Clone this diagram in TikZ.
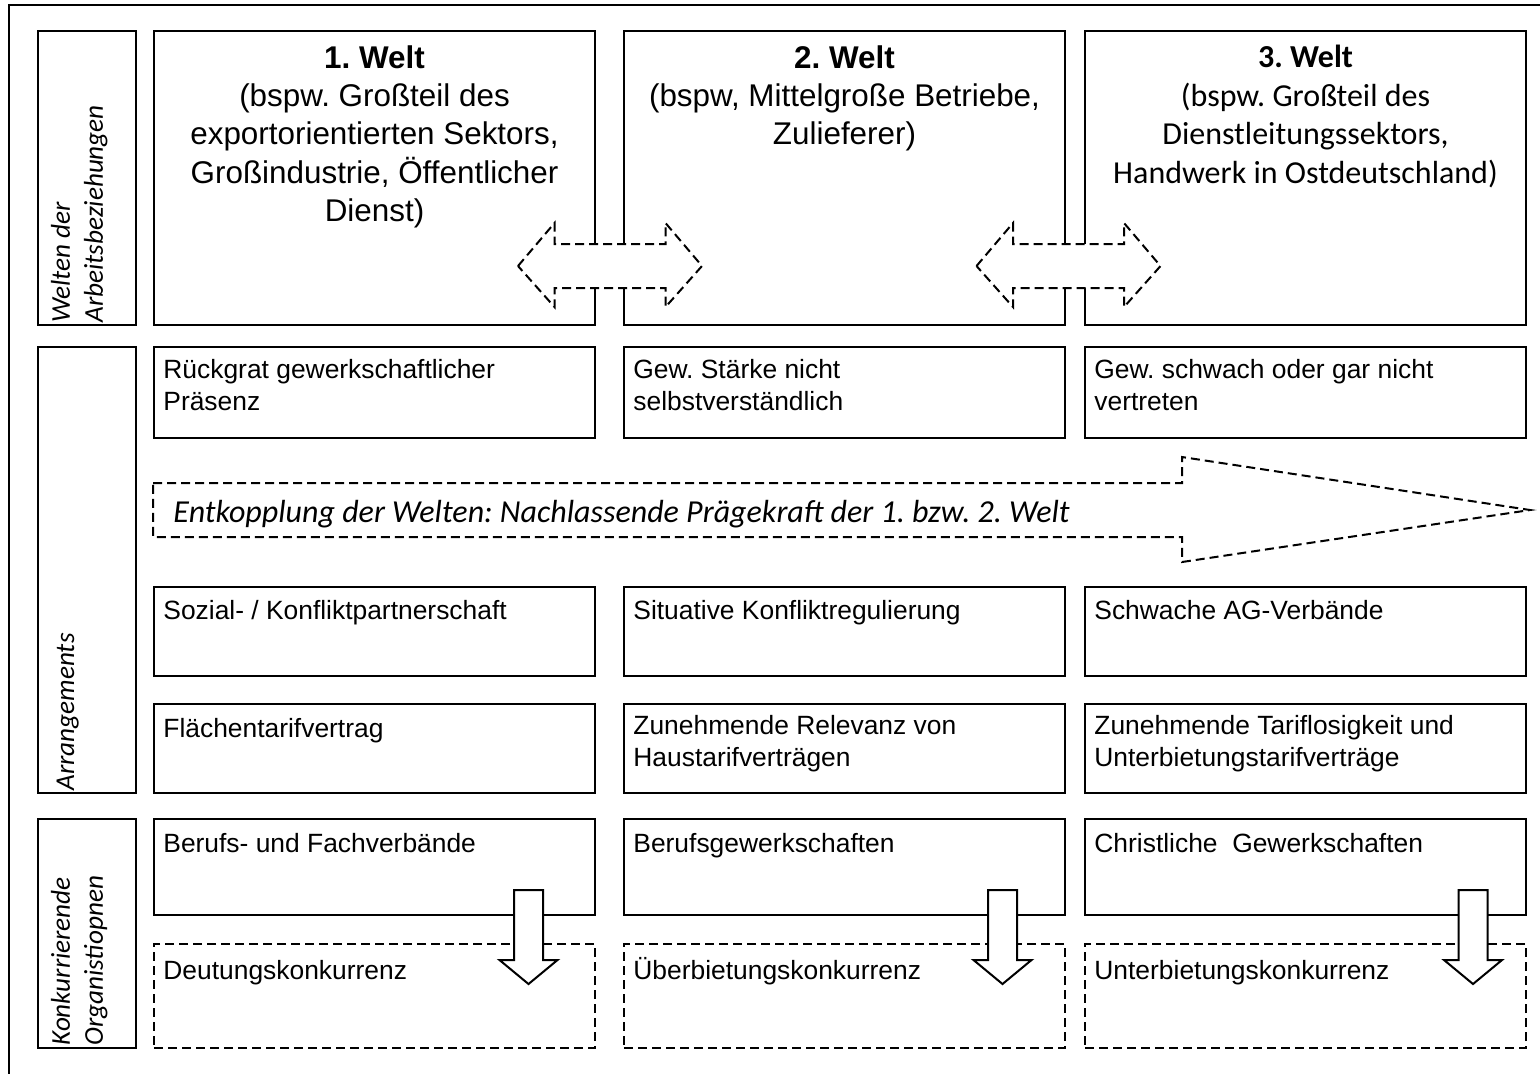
\documentclass[tikz,border=0pt]{standalone}
\usepackage{fontspec}
\setmainfont{Liberation Sans}
\newfontfamily\calibri{Carlito}
\usetikzlibrary{positioning, calc}
\frenchspacing

\tikzset{
    cell/.style 2 args={draw, line width=1pt, anchor=north west, inner sep=0pt,
        minimum width={#1*0.5pt}, minimum height={#2*0.5pt}},
    dashcell/.style 2 args={cell={#1}{#2}, dash pattern=on 4.5pt off 2.5pt},
    celltext/.style={anchor=north west, inner sep=0pt, align=left,
        font=\fontsize{13.2}{16}\selectfont, execute at begin node=\strut},
    headtext/.style={anchor=north, inner sep=0pt, align=center,
        font=\fontsize{15.7}{19.2}\selectfont, execute at begin node=\strut},
    sidetext/.style={anchor=north west, inner sep=0pt, align=left, rotate=90,
        font=\calibri\itshape\fontsize{13.6}{16.5}\selectfont, execute at begin node=\strut},
    solidline/.style={line width=1pt},
    dashline/.style={line width=1pt, dash pattern=on 4.5pt off 2.5pt},
}

\begin{document}
\begin{tikzpicture}[x=0.5pt, y=-0.5pt]
    \useasboundingbox (0,0) rectangle (1540,1073);

    % Outer frame
    \draw[solidline] (9,5) rectangle (1560,1080);

    % Side labels
    \node[cell={98}{294}] (s1) at (37,30) {};
    \node[cell={98}{446}] (s2) at (37,346) {};
    \node[cell={98}{229}] (s3) at (37,818) {};
    \node[sidetext] (s1t) at ([shift={(13.5,-3)}]s1.south west) {Welten der\\Arbeitsbeziehungen};
    \node[sidetext] (s2t) at ([shift={(13.5,-3)}]s2.south west) {Arrangements};
    \node[sidetext] (s3t) at ([shift={(13.5,-3)}]s3.south west) {Konkurrierende\\Organistiopnen};

    % Worlds
    \node[cell={441}{294}] (w1) at (153,30) {};
    \node[cell={441}{294}] (w2) at (623,30) {};
    \node[cell={441}{294}] (w3) at (1084,30) {};
    \node[headtext] (w1t) at ([shift={(0,15)}]w1.north)
        {\textbf{1. Welt}\\(bspw. Großteil des\\exportorientierten Sektors,\\Großindustrie, Öffentlicher\\Dienst)};
    \node[headtext] (w2t) at ([shift={(0,15)}]w2.north)
        {\textbf{2. Welt}\\(bspw, Mittelgroße Betriebe,\\Zulieferer)};
    \node[headtext, font=\calibri\fontsize{16}{19.2}\selectfont] (w3t) at ([shift={(0,15)}]w3.north)
        {\textbf{3. Welt}\\(bspw. Großteil des\\Dienstleitungssektors,\\Handwerk in Ostdeutschland)};

    % Union presence
    \node[cell={441}{91}] (a1) at (153,346) {};
    \node[cell={441}{91}] (a2) at (623,346) {};
    \node[cell={441}{91}] (a3) at (1084,346) {};
    \node[celltext] (a1t) at ([shift={(10,13)}]a1.north west) {Rückgrat gewerkschaftlicher\\Präsenz};
    \node[celltext] (a2t) at ([shift={(10,13)}]a2.north west) {Gew. Stärke nicht\\selbstverständlich};
    \node[celltext] (a3t) at ([shift={(10,13)}]a3.north west) {Gew. schwach oder gar nicht\\vertreten};

    % Decoupling arrow
    \draw[dashline, fill=white] (153,483) -- (1182,483) -- (1182,457) -- (1530,510)
        -- (1182,562) -- (1182,537) -- (153,537) -- cycle;
    \node[anchor=base west, inner sep=0pt, font=\calibri\itshape\fontsize{16}{19}\selectfont]
        (drift) at (173,522.7) {Entkopplung der Welten: Nachlassende Prägekraft der 1. bzw. 2. Welt};

    % Conflict regulation
    \node[cell={441}{89}] (k1) at (153,586) {};
    \node[cell={441}{89}] (k2) at (623,586) {};
    \node[cell={441}{89}] (k3) at (1084,586) {};
    \node[celltext] (k1t) at ([shift={(10,10.5)}]k1.north west) {Sozial- / Konfliktpartnerschaft};
    \node[celltext] (k2t) at ([shift={(10,10.5)}]k2.north west) {Situative Konfliktregulierung};
    \node[celltext] (k3t) at ([shift={(10,10.5)}]k3.north west) {Schwache AG-Verbände};

    % Collective agreements
    \node[cell={441}{89}] (t1) at (153,703) {};
    \node[cell={441}{89}] (t2) at (623,703) {};
    \node[cell={441}{89}] (t3) at (1084,703) {};
    \node[celltext] (t1t) at ([shift={(10,12)}]t1.north west) {Flächentarifvertrag};
    \node[celltext] (t2t) at ([shift={(10,12)}]t2.north west) {Zunehmende Relevanz von\\Haustarifverträgen};
    \node[celltext] (t3t) at ([shift={(10,12)}]t3.north west) {Zunehmende Tariflosigkeit und\\Unterbietungstarifverträge};

    % Competing organisations
    \node[cell={441}{96}] (o1) at (153,818) {};
    \node[cell={441}{96}] (o2) at (623,818) {};
    \node[cell={441}{96}] (o3) at (1084,818) {};
    \node[celltext] (o1t) at ([shift={(10,11.5)}]o1.north west) {Berufs- und Fachverbände};
    \node[celltext] (o2t) at ([shift={(10,11.5)}]o2.north west) {Berufsgewerkschaften};
    \node[celltext] (o3t) at ([shift={(10,11.5)}]o3.north west) {Christliche\ \ Gewerkschaften};

    % Competition
    \node[dashcell={441}{104}] (c1) at (153,943) {};
    \node[dashcell={441}{104}] (c2) at (623,943) {};
    \node[dashcell={441}{104}] (c3) at (1084,943) {};
    \node[celltext] (c1t) at ([shift={(10,14)}]c1.north west) {Deutungskonkurrenz};
    \node[celltext] (c2t) at ([shift={(10,14)}]c2.north west) {Überbietungskonkurrenz};
    \node[celltext] (c3t) at ([shift={(10,14)}]c3.north west) {Unterbietungskonkurrenz};

    % Double arrows between the worlds
    \foreach \cx in {610, 1068.5} {
        \draw[dashline, fill=white] (\cx-92,266) -- (\cx-55.5,223) -- (\cx-55.5,244)
            -- (\cx+55.5,244) -- (\cx+55.5,223) -- (\cx+92,266) -- (\cx+55.5,307)
            -- (\cx+55.5,288) -- (\cx-55.5,288) -- (\cx-55.5,307) -- cycle;
    }

    % Down arrows
    \foreach \cx in {528.5, 1002.5, 1473} {
        \draw[solidline, fill=white] (\cx-14.5,890) -- (\cx+14.5,890) -- (\cx+14.5,960)
            -- (\cx+29,960) -- (\cx,984) -- (\cx-29,960) -- (\cx-14.5,960) -- cycle;
    }
\end{tikzpicture}
\end{document}
